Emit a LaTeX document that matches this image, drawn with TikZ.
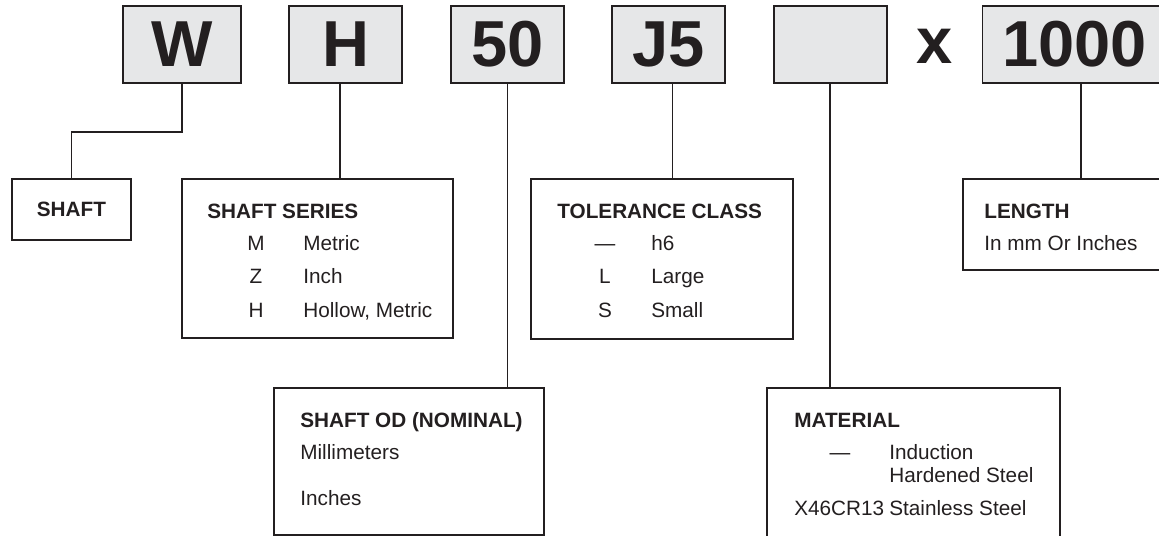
\documentclass[tikz,border=0pt]{standalone}
\usepackage{fontspec}
\setmainfont{Liberation Sans}
\usetikzlibrary{positioning, calc}
\definecolor{ink}{HTML}{231F20}
\definecolor{panel}{HTML}{E6E7E8}

\begin{document}
\begin{tikzpicture}[
  x=0.02cm, y=-0.02cm,
  node distance=0.93cm,
  digit/.style={rectangle, draw=ink, fill=panel, line width=1.1pt,
                minimum width=2.26cm, minimum height=1.54cm, inner sep=0pt,
                text=ink, font=\fontsize{37}{40}\selectfont\bfseries},
  frame/.style={rectangle, draw=ink, line width=1.1pt, inner sep=0pt,
                anchor=north west},
  title/.style={anchor=base west, inner sep=0pt, text=ink, font=\bodyfont\bfseries},
  item/.style={anchor=base west, inner sep=0pt, text=ink, font=\bodyfont},
  code/.style={anchor=base, inner sep=0pt, text=ink, font=\bodyfont},
  link/.style={draw=ink, line width=0.8pt},
]
\providecommand\bodyfont{\fontsize{11.8}{14}\selectfont}
\useasboundingbox (0,0) rectangle (1159,536);
\clip (0,0) rectangle (1159,536);
% Code boxes
\node[digit, minimum width=2.36cm] (w) at (182,44.5) {W};
\node[digit, right=of w]     (h)     {H};
\node[digit, right=of h]     (fifty) {50};
\node[digit, right=of fifty] (j)     {J5};
\node[digit, right=of j]     (blank) {};
\node[digit, right=1.88cm of blank, minimum width=3.68cm] (k) {1000};
\node[text=ink, inner sep=0pt, font=\fontsize{37}{40}\selectfont\bfseries]
  (times) at ($(blank.east)!0.5!(k.west)+(0,2)$) {x};
% Legend boxes
\node[frame, minimum width=2.38cm, minimum height=1.22cm, text=ink,
      font=\bodyfont\bfseries] (shaft) at (11,178) {SHAFT};
\node[frame, minimum width=5.42cm, minimum height=3.18cm] (series) at (181,178) {};
\node[frame, minimum width=5.24cm, minimum height=3.2cm]  (tol)    at (530,178) {};
\node[frame, minimum width=4.72cm, minimum height=1.82cm] (len)    at (962,178) {};
\node[frame, minimum width=5.4cm,  minimum height=2.94cm] (od)     at (273,387) {};
\node[frame, minimum width=5.86cm, minimum height=3.46cm] (mat)    at (766,387) {};
% Shaft series
\node[title] (seriest) at (207,218.5) {SHAFT SERIES};
\node[code] (sc1) at (256,250.5) {M};
\node[code] (sc2) at (256,284)   {Z};
\node[code] (sc3) at (256,317.5) {H};
\node[item] (sd1) at (303,250.5) {Metric};
\node[item] (sd2) at (303,284)   {Inch};
\node[item] (sd3) at (303,317.5) {Hollow, Metric};
% Tolerance class
\node[title] (tolt) at (557,218.5) {TOLERANCE CLASS};
\node[code] (tc1) at (605,250.5) {—};
\node[code] (tc2) at (605,284)   {L};
\node[code] (tc3) at (605,317.5) {S};
\node[item] (td1) at (651,250.5) {h6};
\node[item] (td2) at (651,284)   {Large};
\node[item] (td3) at (651,317.5) {Small};
% Length
\node[title] (lent) at (984,218.5) {LENGTH};
\node[item]  (lend) at (984,250.5) {In mm Or Inches};
% Shaft OD
\node[title] (odt) at (300,427.5) {SHAFT OD (NOMINAL)};
\node[item]  (od1) at (300,459.5) {Millimeters};
\node[item]  (od2) at (300,505.5) {Inches};
% Material
\node[title] (matt) at (794,427.5) {MATERIAL};
\node[code]  (mc1)  at (840,459.5) {—};
\node[item]  (md1)  at (889,459.5) {Induction};
\node[item]  (md1b) at (889,482.5) {Hardened Steel};
\node[item]  (mc2)  at (794,515.5) {X46CR13};
\node[item]  (md2)  at (889,515.5) {Stainless Steel};
% Connectors
\draw[link] (w.south) -- ++(0,48) -| (shaft.north);
\draw[link] ($(h.south)+(-6,0)$) -- ($(h.south |- series.north)+(-6,0)$);
\draw[link] (fifty.south) -- (fifty.south |- od.north);
\draw[link] ($(j.south)+(4,0)$) -- ($(j.south |- tol.north)+(4,0)$);
\draw[link] (blank.south) -- (blank.south |- mat.north);
\draw[link] (k.south -| len.north) -- (len.north);
\end{tikzpicture}
\end{document}
